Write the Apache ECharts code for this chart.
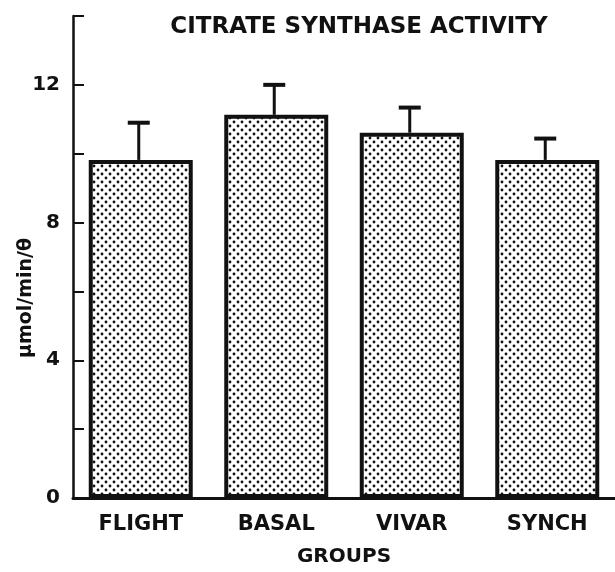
<!DOCTYPE html>
<html>
<head>
<meta charset="utf-8">
<script src="https://cdn.jsdelivr.net/npm/echarts@6/dist/echarts.min.js"></script>
<style>html,body{margin:0;padding:0;background:#fff}#c{width:615px;height:572px}</style>
</head>
<body>
<div id="c"></div>
<script>
var categories = ['FLIGHT', 'BASAL', 'VIVAR', 'SYNCH'];
var means = [9.82, 11.13, 10.61, 9.82];
var errorTops = [10.9, 12.0, 11.34, 10.44];
var yTicks = [0, 2, 4, 6, 8, 10, 12, 14];
var yLabels = [0, 4, 8, 12];

var tile = document.createElement('canvas');
tile.width = 8; tile.height = 8;
var g = tile.getContext('2d');
g.fillStyle = '#fff'; g.fillRect(0, 0, 8, 8);
g.fillStyle = '#111';
[[2, 2], [6, 6]].forEach(function (p) { g.beginPath(); g.arc(p[0], p[1], 1.4, 0, Math.PI * 2); g.fill(); });

var FONT = '"DejaVu Sans", sans-serif';
var chart = echarts.init(document.getElementById('c'), null, {renderer: 'canvas'});
chart.setOption({
  animation: false,
  backgroundColor: '#fff',
  title: {
    text: 'CITRATE SYNTHASE ACTIVITY',
    left: 354, top: 11, textAlign: 'center',
    textStyle: {fontFamily: FONT, fontWeight: 'bold', fontSize: 23, color: '#111'}
  },
  grid: {left: 73, top: 16, width: 548, height: 485, containLabel: false},
  xAxis: {
    type: 'category',
    data: categories,
    boundaryGap: true,
    name: 'GROUPS',
    nameLocation: 'middle',
    nameGap: 49,
    nameTextStyle: {fontFamily: FONT, fontWeight: 'bold', fontSize: 20, color: '#111'},
    axisLine: {lineStyle: {color: '#111', width: 3}},
    axisTick: {inside: true, length: 9, lineStyle: {color: '#111', width: 2}},
    axisLabel: {fontFamily: FONT, fontWeight: 'bold', fontSize: 21, color: '#111', margin: 16}
  },
  yAxis: {
    type: 'value',
    min: 0, max: 14, interval: 2,
    axisLine: {show: true, lineStyle: {color: '#111', width: 2.5}},
    axisTick: {show: true, inside: true, length: 11, lineStyle: {color: '#111', width: 2}},
    splitLine: {show: false},
    axisLabel: {
      fontFamily: FONT, fontWeight: 'bold', fontSize: 20, color: '#111', margin: 13,
      formatter: function (v) { return yLabels.indexOf(v) >= 0 ? String(v) : ''; }
    }
  },
  graphic: [{
    type: 'text',
    x: 26, y: 298,
    rotation: Math.PI / 2,
    style: {text: 'μmol/min/θ', fontFamily: FONT, fontWeight: 'bold', fontSize: 19, fill: '#111', align: 'center', verticalAlign: 'middle'}
  }],
  series: [{
    type: 'bar',
    data: means,
    barWidth: 104,
    itemStyle: {color: {image: tile, repeat: 'repeat'}, borderColor: '#111', borderWidth: 4},
    z: 2
  }, {
    type: 'custom',
    data: categories.map(function (c, i) { return [i, means[i], errorTops[i]]; }),
    renderItem: function (params, api) {
      var top = api.coord([api.value(0), api.value(2)]);
      var base = api.coord([api.value(0), api.value(1)]);
      var x = top[0] - 2;
      return {
        type: 'group',
        children: [
          {type: 'line', shape: {x1: x, y1: top[1], x2: x, y2: base[1]}, style: {stroke: '#111', lineWidth: 3}},
          {type: 'line', shape: {x1: x - 11, y1: top[1], x2: x + 11, y2: top[1]}, style: {stroke: '#111', lineWidth: 4}}
        ]
      };
    },
    z: 3
  }]
});
</script>
</body>
</html>
